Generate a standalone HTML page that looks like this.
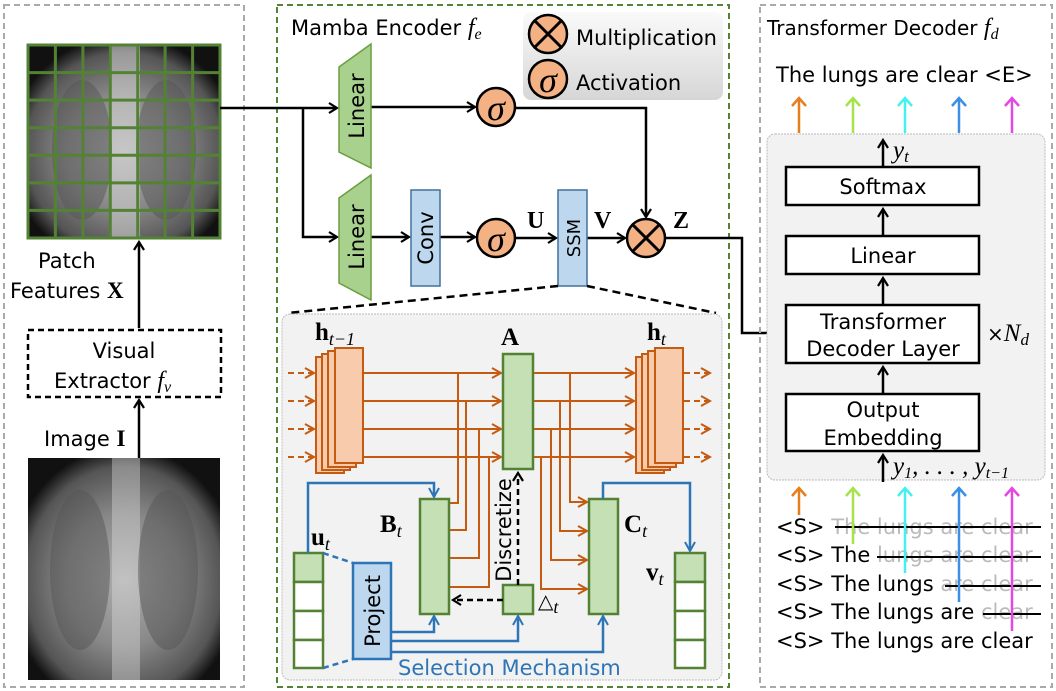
<!DOCTYPE html>
<html><head><meta charset="utf-8"><style>
html,body{margin:0;padding:0;background:#fff;}
svg{display:block;font-family:"DejaVu Sans","Liberation Sans",sans-serif;}
.m{font-family:"Liberation Serif",serif;font-style:italic;}
.b{font-family:"Liberation Serif",serif;font-weight:bold;}
</style></head><body>
<svg width="1056" height="691" viewBox="0 0 1056 691" xmlns="http://www.w3.org/2000/svg">
<defs>
<marker id="ak" markerWidth="12" markerHeight="12" refX="9" refY="6" orient="auto" markerUnits="userSpaceOnUse"><path d="M1,1 L9,6 L1,11" fill="none" stroke="#000" stroke-width="2.2"/></marker>
<marker id="ao" markerWidth="12" markerHeight="12" refX="10" refY="6" orient="auto" markerUnits="userSpaceOnUse"><path d="M1,1 L10,6 L1,11" fill="none" stroke="#c55a11" stroke-width="2"/></marker>
<marker id="ab" markerWidth="12" markerHeight="12" refX="10" refY="6" orient="auto" markerUnits="userSpaceOnUse"><path d="M1,1 L10,6 L1,11" fill="none" stroke="#2e75b6" stroke-width="2"/></marker>
<linearGradient id="lg" x1="0" y1="0" x2="0" y2="1"><stop offset="0" stop-color="#fafafa"/><stop offset="1" stop-color="#d6d6d6"/></linearGradient>
<radialGradient id="xr" cx="0.5" cy="0.55" r="0.6"><stop offset="0" stop-color="#b0b0b0"/><stop offset="0.5" stop-color="#888"/><stop offset="0.85" stop-color="#555"/><stop offset="1" stop-color="#111"/></radialGradient>
</defs>

<!-- left panel -->
<rect x="4" y="5" width="240" height="682" fill="none" stroke="#aaa" stroke-width="2" stroke-dasharray="6,4"/>
<rect x="28" y="45" width="192" height="193" fill="url(#xr)"/>
<rect x="110" y="45" width="30" height="193" fill="#ddd" opacity="0.5"/>
<ellipse cx="82" cy="150" rx="30" ry="70" fill="#555" opacity="0.5"/>
<ellipse cx="166" cy="150" rx="30" ry="70" fill="#555" opacity="0.5"/>
<g stroke="#548235" stroke-width="3" fill="none">
<rect x="28" y="45" width="192" height="193"/>
<path d="M55.4,45V238M82.9,45V238M110.3,45V238M137.7,45V238M165.1,45V238M192.6,45V238M28,72.6H220M28,100.1H220M28,127.7H220M28,155.3H220M28,182.9H220M28,210.4H220"/>
</g>
<text x="38" y="268" font-size="21">Patch</text>
<text x="10" y="298" font-size="21">Features <tspan class="b" font-size="23">X</tspan></text>
<line x1="139" y1="328" x2="139" y2="242" stroke="#000" stroke-width="2.5" marker-end="url(#ak)"/>
<rect x="28" y="330" width="193" height="67" fill="#fff" stroke="#000" stroke-width="2.5" stroke-dasharray="6,4"/>
<text x="124" y="358" font-size="21" text-anchor="middle">Visual</text>
<text x="54" y="388" font-size="21">Extractor <tspan class="m" font-size="24">f</tspan><tspan class="m" font-size="16" dy="4">v</tspan></text>
<line x1="139" y1="458" x2="139" y2="400" stroke="#000" stroke-width="2.5" marker-end="url(#ak)"/>
<text x="44" y="446" font-size="21">Image <tspan class="b" font-size="23">I</tspan></text>
<rect x="28" y="458" width="192" height="222" fill="url(#xr)"/>
<rect x="112" y="458" width="28" height="222" fill="#ddd" opacity="0.4"/>
<ellipse cx="80" cy="570" rx="30" ry="80" fill="#555" opacity="0.5"/>
<ellipse cx="168" cy="570" rx="30" ry="80" fill="#555" opacity="0.5"/>

<!-- middle panel -->
<rect x="277" y="5" width="452" height="682" fill="none" stroke="#548235" stroke-width="2" stroke-dasharray="6,4"/>
<text x="291" y="35" font-size="21">Mamba Encoder <tspan class="m" font-size="24">f</tspan><tspan class="m" font-size="16" dy="4">e</tspan></text>
<rect x="523" y="12" width="200" height="88" rx="8" fill="url(#lg)"/>
<circle cx="548" cy="34" r="19" fill="#f4b183" stroke="#000" stroke-width="2.5"/>
<path d="M535,21L561,47M561,21L535,47" stroke="#000" stroke-width="3"/>
<text x="576" y="45" font-size="21">Multiplication</text>
<circle cx="548" cy="79" r="19" fill="#f4b183" stroke="#000" stroke-width="2.5"/>
<text x="548" y="92" font-size="36" class="m" text-anchor="middle">σ</text>
<text x="576" y="90" font-size="21">Activation</text>

<g fill="none" stroke="#000" stroke-width="2.5">
<path d="M220,108H337" marker-end="url(#ak)"/>
<path d="M303,108V237H337" marker-end="url(#ak)"/>
<path d="M371,107H475" marker-end="url(#ak)"/>
<path d="M516,108H646V217" marker-end="url(#ak)"/>
<path d="M371,237H409" marker-end="url(#ak)"/>
<path d="M440,237H475" marker-end="url(#ak)"/>
<path d="M516,238H556" marker-end="url(#ak)"/>
<path d="M587,238H625" marker-end="url(#ak)"/>
<path d="M666,238H742V333H782" marker-end="url(#ak)"/>
</g>
<path d="M339,67L371,44V168L339,152Z" fill="#a9d18e" stroke="#6a9e3f" stroke-width="1.5"/>
<path d="M339,198L371,175V300L339,283Z" fill="#a9d18e" stroke="#6a9e3f" stroke-width="1.5"/>
<text transform="translate(364,106) rotate(-90)" font-size="21" text-anchor="middle">Linear</text>
<text transform="translate(364,237) rotate(-90)" font-size="21" text-anchor="middle">Linear</text>
<rect x="411" y="190" width="29" height="96" fill="#bdd7ee" stroke="#41719c" stroke-width="1.5"/>
<text transform="translate(433,238) rotate(-90)" font-size="21" text-anchor="middle">Conv</text>
<rect x="558" y="190" width="29" height="96" fill="#bdd7ee" stroke="#41719c" stroke-width="1.5"/>
<text transform="translate(580,238) rotate(-90)" font-size="18" text-anchor="middle">SSM</text>
<circle cx="496" cy="107" r="19" fill="#f4b183" stroke="#000" stroke-width="2.5"/>
<text x="496" y="120" font-size="36" class="m" text-anchor="middle">σ</text>
<circle cx="496" cy="238" r="19" fill="#f4b183" stroke="#000" stroke-width="2.5"/>
<text x="496" y="251" font-size="36" class="m" text-anchor="middle">σ</text>
<circle cx="646" cy="238" r="19" fill="#f4b183" stroke="#000" stroke-width="2.5"/>
<path d="M633,225L659,251M659,225L633,251" stroke="#000" stroke-width="3"/>
<text x="527" y="228" font-size="24" class="b">U</text>
<text x="594" y="228" font-size="24" class="b">V</text>
<text x="673" y="228" font-size="24" class="b">Z</text>
<path d="M558,286L288,313M587,286L716,313" stroke="#000" stroke-width="2.5" stroke-dasharray="8,5"/>

<!-- inner SSM box -->
<rect x="282" y="314" width="440" height="366" rx="8" fill="#f2f2f2" stroke="#bbb" stroke-width="1" stroke-dasharray="2,1"/>
<text x="315" y="340" font-size="25" class="b">h<tspan class="m" font-weight="normal" font-size="18" dy="5">t−1</tspan></text>
<text x="501" y="345" font-size="25" class="b">A</text>
<text x="647" y="340" font-size="25" class="b">h<tspan class="m" font-weight="normal" font-size="18" dy="5">t</tspan></text>
<g stroke="#c55a11" stroke-width="2" fill="#f8cbad">
<rect x="316" y="357" width="28" height="116"/>
<rect x="322" y="354" width="28" height="116"/>
<rect x="328" y="351" width="28" height="116"/>
<rect x="335" y="348" width="28" height="115"/>
<rect x="636" y="357" width="28" height="116"/>
<rect x="642" y="354" width="28" height="116"/>
<rect x="648" y="351" width="28" height="116"/>
<rect x="655" y="348" width="28" height="115"/>
</g>
<g stroke="#c55a11" stroke-width="2" fill="none">
<g stroke-dasharray="6,4">
<path d="M288,373H314" marker-end="url(#ao)"/><path d="M288,401H314" marker-end="url(#ao)"/><path d="M288,429H314" marker-end="url(#ao)"/><path d="M288,457H314" marker-end="url(#ao)"/>
<path d="M684,373H710" marker-end="url(#ao)"/><path d="M684,401H710" marker-end="url(#ao)"/><path d="M684,429H710" marker-end="url(#ao)"/><path d="M684,457H710" marker-end="url(#ao)"/>
</g>
<path d="M363,373H501" marker-end="url(#ao)"/><path d="M363,401H501" marker-end="url(#ao)"/><path d="M363,429H501" marker-end="url(#ao)"/><path d="M363,457H501" marker-end="url(#ao)"/>
<path d="M533,373H634" marker-end="url(#ao)"/><path d="M533,401H634" marker-end="url(#ao)"/><path d="M533,429H634" marker-end="url(#ao)"/><path d="M533,457H634" marker-end="url(#ao)"/>
<path d="M458,373V503H449M466,401V530H449M479,429V558H449M489,457V587H449"/>
<path d="M570,373V502H587" marker-end="url(#ao)"/><path d="M560,401V531H587" marker-end="url(#ao)"/><path d="M551,429V560H587" marker-end="url(#ao)"/><path d="M541,457V589H587" marker-end="url(#ao)"/>
</g>
<rect x="503" y="354" width="30" height="115" fill="#c5e0b4" stroke="#548235" stroke-width="2.5"/>
<rect x="420" y="499" width="29" height="115" fill="#c5e0b4" stroke="#548235" stroke-width="2.5"/>
<rect x="589" y="499" width="29" height="115" fill="#c5e0b4" stroke="#548235" stroke-width="2.5"/>
<rect x="503" y="585" width="30" height="29" fill="#c5e0b4" stroke="#548235" stroke-width="2.5"/>
<text x="380" y="532" font-size="25" class="b">B<tspan class="m" font-weight="normal" font-size="18" dy="5">t</tspan></text>
<text x="624" y="532" font-size="25" class="b">C<tspan class="m" font-weight="normal" font-size="18" dy="5">t</tspan></text>
<text x="538" y="608" font-size="20" font-family="DejaVu Sans">△<tspan class="m" font-size="18" dy="5">t</tspan></text>
<text transform="translate(511,530) rotate(-90)" font-size="21" text-anchor="middle">Discretize</text>
<g stroke="#000" stroke-width="2.5" fill="none" stroke-dasharray="6,4">
<path d="M518,585V473" marker-end="url(#ak)"/>
<path d="M503,600H453" marker-end="url(#ak)"/>
</g>
<!-- u_t, v_t -->
<g stroke="#548235" stroke-width="2.5" fill="#fff">
<rect x="294" y="553" width="29" height="29" fill="#c5e0b4"/><rect x="294" y="582" width="29" height="29"/><rect x="294" y="611" width="29" height="29"/><rect x="294" y="640" width="29" height="28"/>
<rect x="675" y="553" width="30" height="29" fill="#c5e0b4"/><rect x="675" y="582" width="30" height="29"/><rect x="675" y="611" width="30" height="29"/><rect x="675" y="640" width="30" height="28"/>
</g>
<text x="312" y="547" font-size="25" class="b" text-anchor="middle" fill="none"> </text>
<text x="311" y="545" font-size="25" class="b">u<tspan class="m" font-weight="normal" font-size="18" dy="5">t</tspan></text>
<text x="646" y="580" font-size="25" class="b">v<tspan class="m" font-weight="normal" font-size="18" dy="5">t</tspan></text>
<path d="M323,553L353,563M323,668L353,659" stroke="#2e75b6" stroke-width="2.5" stroke-dasharray="6,4"/>
<g stroke="#2e75b6" stroke-width="2.5" fill="none">
<path d="M308,553V483H434V497" marker-end="url(#ab)"/>
<path d="M391,632H434V616" marker-end="url(#ab)"/>
<path d="M391,641H518V616" marker-end="url(#ab)"/>
<path d="M391,652H603V616" marker-end="url(#ab)"/>
<path d="M603,499V483H690V551" marker-end="url(#ab)"/>
</g>
<rect x="353" y="563" width="38" height="96" fill="#bdd7ee" stroke="#2e75b6" stroke-width="2.5"/>
<text transform="translate(380,611) rotate(-90)" font-size="21" text-anchor="middle">Project</text>
<text x="398" y="675" font-size="21" fill="#2e75b6">Selection Mechanism</text>

<!-- right panel -->
<rect x="760" y="5" width="292" height="682" fill="none" stroke="#aaa" stroke-width="2" stroke-dasharray="6,4"/>
<text x="767" y="35" font-size="20">Transformer Decoder <tspan class="m" font-size="24">f</tspan><tspan class="m" font-size="16" dy="4">d</tspan></text>
<text x="776" y="82" font-size="21">The lungs are clear &lt;E&gt;</text>
<rect x="767" y="134" width="278" height="346" rx="8" fill="#f2f2f2" stroke="#bbb" stroke-width="1" stroke-dasharray="2,1"/>
<g stroke-width="2.5" fill="none">
<path d="M799,133V99M792,106L799,98L806,106" stroke="#e87d1e"/>
<path d="M853,133V99M846,106L853,98L860,106" stroke="#a6e34a"/>
<path d="M905,133V99M898,106L905,98L912,106" stroke="#44f0f0"/>
<path d="M959,133V99M952,106L959,98L966,106" stroke="#3b8fe5"/>
<path d="M1012,133V99M1005,106L1012,98L1019,106" stroke="#e447e4"/>
</g>
<g stroke="#000" stroke-width="2.5" fill="none">
<path d="M883,167V140" marker-end="url(#ak)"/>
<path d="M883,236V209" marker-end="url(#ak)"/>
<path d="M883,305V278" marker-end="url(#ak)"/>
<path d="M883,394V367" marker-end="url(#ak)"/>
<path d="M883,482V455" marker-end="url(#ak)"/>
</g>
<g stroke="#000" stroke-width="2.5" fill="#fff">
<rect x="786" y="167" width="193" height="38"/>
<rect x="786" y="236" width="193" height="38"/>
<rect x="786" y="305" width="193" height="58"/>
<rect x="786" y="394" width="193" height="57"/>
</g>
<text x="883" y="194" font-size="21" text-anchor="middle">Softmax</text>
<text x="883" y="263" font-size="21" text-anchor="middle">Linear</text>
<text x="883" y="329" font-size="21" text-anchor="middle">Transformer</text>
<text x="883" y="356" font-size="21" text-anchor="middle">Decoder Layer</text>
<text x="883" y="417" font-size="21" text-anchor="middle">Output</text>
<text x="883" y="445" font-size="21" text-anchor="middle">Embedding</text>
<text x="893" y="158" font-size="25" class="m">y<tspan font-size="17" dy="4">t</tspan></text>
<text x="987" y="341" font-size="20">×<tspan class="m" font-size="25">N</tspan><tspan class="m" font-size="17" dy="4">d</tspan></text>
<text x="893" y="474" font-size="25" class="m">y<tspan font-size="16" dy="4">1</tspan><tspan dy="-4">, . . . , y</tspan><tspan font-size="16" dy="4">t−1</tspan></text>

<g font-size="21">
<text x="776" y="534">&lt;S&gt; <tspan fill="#bbb">The lungs are clear</tspan></text>
<text x="776" y="562">&lt;S&gt; The <tspan fill="#bbb">lungs are clear</tspan></text>
<text x="776" y="591">&lt;S&gt; The lungs <tspan fill="#bbb">are clear</tspan></text>
<text x="776" y="619">&lt;S&gt; The lungs are <tspan fill="#bbb">clear</tspan></text>
<text x="776" y="648">&lt;S&gt; The lungs are clear</text>
</g>
<g stroke="#000" stroke-width="2">
<path d="M835,527H1041M877,557H1041M945,586H1041M983,614H1041"/>
</g>
<g stroke-width="2.5" fill="none">
<path d="M799,515V489M792,496L799,488L806,496" stroke="#e87d1e"/>
<path d="M853,544V489M846,496L853,488L860,496" stroke="#a6e34a"/>
<path d="M905,573V489M898,496L905,488L912,496" stroke="#44f0f0"/>
<path d="M959,602V489M952,496L959,488L966,496" stroke="#3b8fe5"/>
<path d="M1012,631V489M1005,496L1012,488L1019,496" stroke="#e447e4"/>
</g>
</svg>
</body></html>
